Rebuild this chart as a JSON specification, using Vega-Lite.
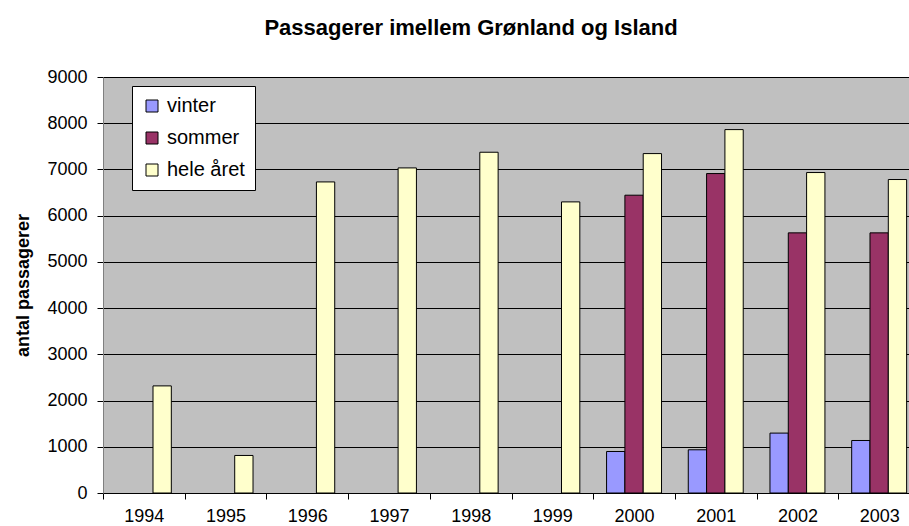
{
  "$schema": "https://vega.github.io/schema/vega-lite/v6.json",
  "width": 806,
  "height": 416,
  "autosize": "none",
  "padding": {"left": 103, "top": 77, "right": 0, "bottom": 33},
  "background": "white",
  "title": {
    "text": "Passagerer imellem Grønland og Island",
    "font": "Liberation Sans",
    "fontSize": 22,
    "fontWeight": "bold",
    "color": "black",
    "anchor": "middle",
    "frame": "group",
    "dx": -35,
    "baseline": "alphabetic",
    "offset": 11
  },
  "config": {
    "view": {"stroke": null, "fill": "#C0C0C0"},
    "font": "Liberation Sans"
  },
  "data": {
    "values": [
      {"year": "1994", "season": "hele året", "value": 2317},
      {"year": "1995", "season": "hele året", "value": 812},
      {"year": "1996", "season": "hele året", "value": 6730},
      {"year": "1997", "season": "hele året", "value": 7033},
      {"year": "1998", "season": "hele året", "value": 7372},
      {"year": "1999", "season": "hele året", "value": 6298},
      {"year": "2000", "season": "vinter", "value": 898},
      {"year": "2000", "season": "sommer", "value": 6443},
      {"year": "2000", "season": "hele året", "value": 7343},
      {"year": "2001", "season": "vinter", "value": 935},
      {"year": "2001", "season": "sommer", "value": 6911},
      {"year": "2001", "season": "hele året", "value": 7862},
      {"year": "2002", "season": "vinter", "value": 1296},
      {"year": "2002", "season": "sommer", "value": 5628},
      {"year": "2002", "season": "hele året", "value": 6933},
      {"year": "2003", "season": "vinter", "value": 1136},
      {"year": "2003", "season": "sommer", "value": 5628},
      {"year": "2003", "season": "hele året", "value": 6782}
    ]
  },
  "mark": {"type": "bar", "stroke": "black", "strokeWidth": 1},
  "encoding": {
    "x": {
      "field": "year",
      "type": "nominal",
      "scale": {
        "domain": ["1994","1995","1996","1997","1998","1999","2000","2001","2002","2003"],
        "range": [0, 817],
        "paddingInner": 0,
        "paddingOuter": 0
      },
      "axis": {
        "title": null,
        "labelAngle": 0,
        "labelFontSize": 18,
        "labelColor": "black",
        "labelPadding": 8,
        "tickBand": "extent",
        "tickColor": "black",
        "tickSize": 6,
        "domainColor": "black",
        "grid": false
      }
    },
    "xOffset": {
      "field": "season",
      "type": "nominal",
      "scale": {
        "domain": ["vinter", "sommer", "hele året"],
        "paddingInner": 0,
        "paddingOuter": 0.73
      }
    },
    "y": {
      "field": "value",
      "type": "quantitative",
      "scale": {"domain": [0, 9000], "nice": false},
      "axis": {
        "title": "antal passagerer",
        "titleFontSize": 18,
        "titleFontWeight": "bold",
        "titleColor": "black",
        "titlePadding": 14,
        "format": "d",
        "values": [0,1000,2000,3000,4000,5000,6000,7000,8000,9000],
        "labelFontSize": 18,
        "labelColor": "black",
        "labelPadding": 10,
        "tickColor": "black",
        "tickSize": 6,
        "domainColor": "#808080",
        "gridColor": "black",
        "gridWidth": 1,
        "gridOpacity": 1
      }
    },
    "color": {
      "field": "season",
      "type": "nominal",
      "scale": {
        "domain": ["vinter", "sommer", "hele året"],
        "range": ["#9999FF", "#993366", "#FFFFCC"]
      },
      "legend": {
        "title": null,
        "orient": "none",
        "legendX": 29,
        "legendY": 9,
        "fillColor": "white",
        "strokeColor": "black",
        "padding": 10,
        "symbolType": "square",
        "symbolSize": 144,
        "symbolStrokeColor": "black",
        "symbolStrokeWidth": 1,
        "symbolOpacity": 1,
        "labelFontSize": 20,
        "labelColor": "black",
        "labelOffset": 5,
        "rowPadding": 12
      }
    }
  }
}
